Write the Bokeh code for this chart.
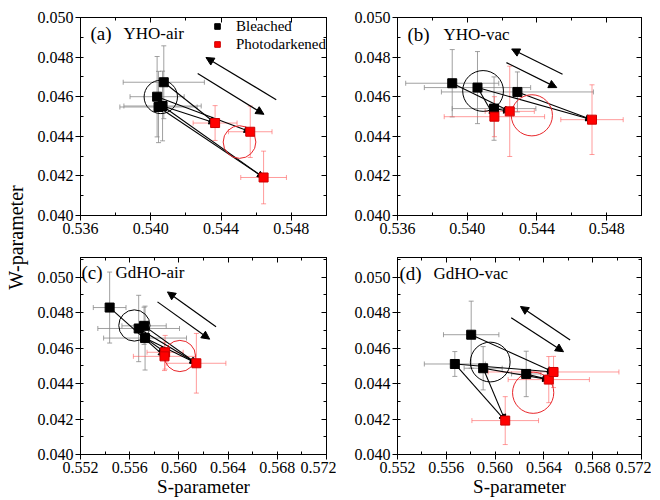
import math
from bokeh.plotting import figure
from bokeh.models import (Range1d, LinearAxis, SingleIntervalTicker, NumeralTickFormatter,
                          ColumnDataSource, Whisker, TeeHead, Arrow, NormalHead, Label,
                          Legend, LegendItem)
from bokeh.layouts import row, column
from bokeh.embed import file_html
from bokeh.resources import INLINE

FONT = "Liberation Serif"

# ---------------- data ----------------
panel_tags = ["(a)", "(b)", "(c)", "(d)"]
panel_names = ["YHO-air", "YHO-vac", "GdHO-air", "GdHO-vac"]
legend_labels = ["Bleached", "Photodarkened"]
x_title = "S-parameter"
y_title = "W-parameter"

S_limits = [(0.536, 0.550), (0.536, 0.550), (0.552, 0.572), (0.552, 0.572)]
W_limits = [(0.040, 0.050), (0.040, 0.050), (0.040, 0.0511), (0.040, 0.0511)]

# (a) YHO-air
a_bl_S = [0.54036, 0.54074, 0.54044, 0.54067]
a_bl_W = [0.04600, 0.04673, 0.04548, 0.04553]
a_bl_Serr = [0.00154, 0.00231, 0.00220, 0.00220]
a_bl_Werr = [0.00203, 0.00184, 0.00180, 0.00176]
a_pd_S = [0.54366, 0.54566, 0.54642]
a_pd_W = [0.04467, 0.04423, 0.04192]
a_pd_Serr = [0.00125, 0.00124, 0.00130]
a_pd_Werr = [0.00088, 0.00130, 0.00133]
a_links = [(1, 0), (0, 1), (3, 0), (2, 2), (3, 2)]
a_ring_S = [0.54057, 0.54505]
a_ring_W = [0.04599, 0.04371]
a_ring_r = [0.00095, 0.00093]
a_trend_S0 = [0.54714, 0.54267]
a_trend_W0 = [0.04585, 0.04717]
a_trend_S1 = [0.54314, 0.54644]
a_trend_W1 = [0.04798, 0.04511]

# (b) YHO-vac
b_bl_S = [0.53914, 0.54059, 0.54154, 0.54288]
b_bl_W = [0.04668, 0.04646, 0.04540, 0.04624]
b_bl_Serr = [0.00267, 0.00305, 0.00240, 0.00436]
b_bl_Werr = [0.00170, 0.00182, 0.00160, 0.00101]
b_pd_S = [0.54156, 0.54244, 0.54716]
b_pd_W = [0.04499, 0.04526, 0.04484]
b_pd_Serr = [0.00288, 0.00141, 0.00179]
b_pd_Werr = [0.00101, 0.00228, 0.00176]
b_links = [(0, 1), (1, 0), (1, 2), (3, 2), (2, 1)]
b_ring_S = [0.54091, 0.54371]
b_ring_W = [0.04629, 0.04506]
b_ring_r = [0.00117, 0.00118]
b_trend_S0 = [0.54547, 0.54225]
b_trend_W0 = [0.04713, 0.04772]
b_trend_S1 = [0.54255, 0.54514]
b_trend_W1 = [0.04841, 0.04646]

# (c) GdHO-air
c_bl_S = [0.55437, 0.55673, 0.55717, 0.55725]
c_bl_W = [0.04828, 0.04710, 0.04725, 0.04656]
c_bl_Serr = [0.00133, 0.00332, 0.00180, 0.00337]
c_bl_Werr = [0.00200, 0.00187, 0.00105, 0.00180]
c_pd_S = [0.55888, 0.55883, 0.56142]
c_pd_W = [0.04576, 0.04553, 0.04514]
c_pd_Serr = [0.00147, 0.00253, 0.00240]
c_pd_Werr = [0.00095, 0.00080, 0.00168]
c_links = [(0, 1), (1, 2), (2, 2), (3, 0), (3, 2)]
c_ring_S = [0.55638, 0.56008]
c_ring_W = [0.04727, 0.04555]
c_ring_r = [0.00127, 0.00127]
c_trend_S0 = [0.56302, 0.55826]
c_trend_W0 = [0.04720, 0.04860]
c_trend_S1 = [0.55907, 0.56250]
c_trend_W1 = [0.04916, 0.04650]

# (d) GdHO-vac
d_bl_S = [0.55804, 0.55670, 0.55902, 0.56255]
d_bl_W = [0.04675, 0.04510, 0.04486, 0.04454]
d_bl_Serr = [0.00227, 0.00250, 0.00156, 0.00120]
d_bl_Werr = [0.00189, 0.00070, 0.00122, 0.00128]
d_pd_S = [0.56083, 0.56440, 0.56479]
d_pd_W = [0.04191, 0.04422, 0.04465]
d_pd_Serr = [0.00273, 0.00333, 0.00536]
d_pd_Werr = [0.00135, 0.00130, 0.00088]
d_links = [(0, 2), (1, 2), (1, 0), (2, 0), (2, 1), (3, 1)]
d_ring_S = [0.55960, 0.56312]
d_ring_W = [0.04521, 0.04348]
d_ring_r = [0.00163, 0.00169]
d_trend_S0 = [0.56615, 0.56132]
d_trend_W0 = [0.04645, 0.04770]
d_trend_S1 = [0.56208, 0.56561]
d_trend_W1 = [0.04834, 0.04579]

# ---------------- style ----------------
BLACK = "#000000"
RED = "#ff0000"
BL_ERR = "#8a8a8a"
PD_ERR = "#ff5a5a"
TICK_FS = "16px"


def add_errorbars(p, xs, ys, xe, ye, color, alpha):
    src = ColumnDataSource(dict(
        x=xs, y=ys,
        xl=[x - e for x, e in zip(xs, xe)], xu=[x + e for x, e in zip(xs, xe)],
        yl=[y - e for y, e in zip(ys, ye)], yu=[y + e for y, e in zip(ys, ye)]))
    for dim, base, lo, up in (("width", "y", "xl", "xu"), ("height", "x", "yl", "yu")):
        w = Whisker(source=src, base=base, lower=lo, upper=up, dimension=dim,
                    line_color=color, line_alpha=alpha, line_width=1,
                    lower_head=TeeHead(size=5, line_color=color, line_alpha=alpha, line_width=1),
                    upper_head=TeeHead(size=5, line_color=color, line_alpha=alpha, line_width=1),
                    level="underlay")
        p.add_layout(w)


def make_panel(idx, bS, bW, bSe, bWe, dS, dW, dSe, dWe, links, rS, rW, rr,
               tS0, tW0, tS1, tW1, top_row, left_col):
    if top_row:
        height, bt, bb = 247, 17, 32
    else:
        height, bt, bb = 252, 10, 45
    if left_col:
        width, bl, br = 302, 46, 10
    else:
        width, bl, br = 315, 61, 10
    s0, s1 = S_limits[idx]
    w0, w1 = W_limits[idx]
    p = figure(width=width, height=height,
               x_range=Range1d(s0, s1 + 1e-7), y_range=Range1d(w0, w1 + 1e-7),
               output_backend="svg", toolbar_location=None,
               min_border_left=bl, min_border_right=br,
               min_border_top=bt, min_border_bottom=bb)
    p.grid.visible = False
    p.outline_line_color = BLACK
    p.background_fill_color = "white"
    p.border_fill_color = "white"

    xt = SingleIntervalTicker(interval=0.004, num_minor_ticks=2)
    yt = SingleIntervalTicker(interval=0.002, num_minor_ticks=2)
    p.xaxis.ticker = xt
    p.yaxis.ticker = yt
    for ax in (p.xaxis[0], p.yaxis[0]):
        ax.formatter = NumeralTickFormatter(format="0.000")
        ax.major_label_text_font = FONT
        ax.major_label_text_font_size = TICK_FS
        ax.major_label_text_color = BLACK
        ax.major_tick_out = 5
        ax.major_tick_in = 0
        ax.minor_tick_out = 0
        ax.minor_tick_in = 3
        ax.major_label_standoff = 2
        ax.axis_line_color = BLACK
        ax.major_tick_line_color = BLACK
        ax.minor_tick_line_color = BLACK
    if not top_row:
        p.xaxis.axis_label = x_title
        p.xaxis.axis_label_text_font = FONT
        p.xaxis.axis_label_text_font_size = "19px"
        p.xaxis.axis_label_text_font_style = "normal"
        p.xaxis.axis_label_text_color = BLACK
        p.xaxis.axis_label_standoff = 0

    # mirrored frame axes (ticks only)
    for place, tk in (("above", xt), ("right", yt)):
        ax = LinearAxis(ticker=tk, major_label_text_font_size="1px",
                        major_label_text_color=None, major_label_standoff=0,
                        major_tick_out=0, major_tick_in=5, minor_tick_out=0, minor_tick_in=3,
                        axis_line_color=BLACK, major_tick_line_color=BLACK,
                        minor_tick_line_color=BLACK)
        p.add_layout(ax, place)

    # error bars
    add_errorbars(p, bS, bW, bSe, bWe, BL_ERR, 0.8)
    add_errorbars(p, dS, dW, dSe, dWe, PD_ERR, 0.6)

    # connecting arrows bleached -> photodarkened
    lsrc = ColumnDataSource(dict(
        x0=[bS[b] for b, r in links], y0=[bW[b] for b, r in links],
        x1=[dS[r] for b, r in links], y1=[dW[r] for b, r in links]))
    p.add_layout(Arrow(source=lsrc, x_start="x0", y_start="y0", x_end="x1", y_end="y1",
                       line_color=BLACK, line_width=1.1, level="underlay",
                       end=NormalHead(size=6, fill_color=BLACK, line_color=BLACK, line_width=1)))

    # cluster rings
    p.circle(x=rS, y=rW, radius=rr, fill_color=None, line_color=[BLACK, "#e8262a"], line_width=1)

    # squares
    rb = p.scatter(x=bS, y=bW, marker="square", size=9, fill_color=BLACK, line_color=BLACK)
    rd = p.scatter(x=dS, y=dW, marker="square", size=9, fill_color=RED, line_color="#cc0000")

    # trend arrows
    tsrc = ColumnDataSource(dict(x0=tS0, y0=tW0, x1=tS1, y1=tW1))
    p.add_layout(Arrow(source=tsrc, x_start="x0", y_start="y0", x_end="x1", y_end="y1",
                       line_color=BLACK, line_width=1.2,
                       end=NormalHead(size=8, fill_color=BLACK, line_color=BLACK, line_width=1)))

    # panel labels
    frame_h = height - bt - bb
    tag_x = [10, 10, 1, 2][idx]
    name_x = [43, 46, 35, 36][idx]
    tag_dy = [16, 17, 15, 16][idx]
    p.add_layout(Label(x=tag_x, y=frame_h - tag_dy, x_units="screen", y_units="screen",
                       text=panel_tags[idx], text_font=FONT, text_font_size="19px",
                       text_color=BLACK, text_baseline="middle", text_align="left"))
    p.add_layout(Label(x=name_x, y=frame_h - tag_dy, x_units="screen", y_units="screen",
                       text=panel_names[idx], text_font=FONT, text_font_size="17px",
                       text_color=BLACK, text_baseline="middle", text_align="left"))

    if idx == 0:
        leg = Legend(items=[LegendItem(label=legend_labels[0], renderers=[rb]),
                            LegendItem(label=legend_labels[1], renderers=[rd])],
                     location="top_right", margin=0, padding=3, spacing=0,
                     label_height=18, glyph_height=18, glyph_width=14, label_standoff=12,
                     label_text_font=FONT, label_text_font_size="15px",
                     label_text_color=BLACK, background_fill_alpha=0,
                     border_line_color=None)
        p.add_layout(leg)
    return p


pa = make_panel(0, a_bl_S, a_bl_W, a_bl_Serr, a_bl_Werr, a_pd_S, a_pd_W, a_pd_Serr, a_pd_Werr,
                a_links, a_ring_S, a_ring_W, a_ring_r, a_trend_S0, a_trend_W0, a_trend_S1,
                a_trend_W1, True, True)
pb = make_panel(1, b_bl_S, b_bl_W, b_bl_Serr, b_bl_Werr, b_pd_S, b_pd_W, b_pd_Serr, b_pd_Werr,
                b_links, b_ring_S, b_ring_W, b_ring_r, b_trend_S0, b_trend_W0, b_trend_S1,
                b_trend_W1, True, False)
pc = make_panel(2, c_bl_S, c_bl_W, c_bl_Serr, c_bl_Werr, c_pd_S, c_pd_W, c_pd_Serr, c_pd_Werr,
                c_links, c_ring_S, c_ring_W, c_ring_r, c_trend_S0, c_trend_W0, c_trend_S1,
                c_trend_W1, False, True)
pd_ = make_panel(3, d_bl_S, d_bl_W, d_bl_Serr, d_bl_Werr, d_pd_S, d_pd_W, d_pd_Serr, d_pd_Werr,
                 d_links, d_ring_S, d_ring_W, d_ring_r, d_trend_S0, d_trend_W0, d_trend_S1,
                 d_trend_W1, False, False)

# shared y title
wfig = figure(width=34, height=499, x_range=Range1d(0, 1), y_range=Range1d(0, 1),
              output_backend="svg", toolbar_location=None, min_border=0,
              x_axis_location=None, y_axis_location=None)
wfig.grid.visible = False
wfig.outline_line_color = None
wfig.add_layout(Label(x=0.47, y=0.525, text=y_title, angle=math.pi / 2,
                      text_font=FONT, text_font_size="20px", text_color=BLACK,
                      text_align="center", text_baseline="middle"))

layout = row(wfig, column(row(pa, pb), row(pc, pd_)))

open("out.html", "w").write(file_html(layout, INLINE))
